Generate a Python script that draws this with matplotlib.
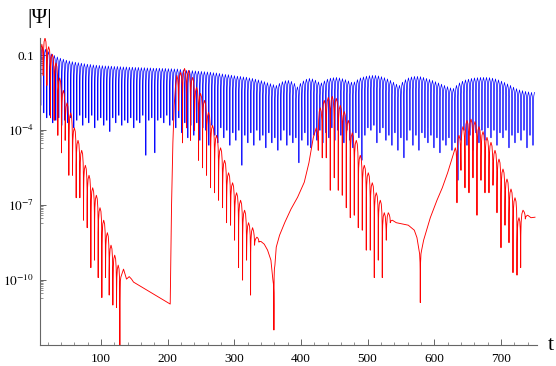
import numpy as np
import matplotlib
matplotlib.use("Agg")
import matplotlib.pyplot as plt
from matplotlib.ticker import FixedLocator, NullFormatter

# ---------------- data (t, log10|Psi|) ----------------
# blue: times of the fast dips, depth of each dip, and height of the crest before it
blue_dip_t = [
    10, 14.5, 19, 23.5, 28, 32.5, 37, 41.5, 46, 50.5,
    55, 59.5, 64, 68.5, 73, 77.5, 82, 86.5, 91, 95.5,
    100, 104.5, 109, 113.5, 118, 122.5, 127, 131.5, 136, 140.5,
    145, 149.5, 154, 158.5, 163, 167.5, 172, 176.5, 181, 185.5,
    190, 194.5, 199, 203.5, 208, 212.5, 217, 221.5, 226, 230.5,
    235, 239.5, 244, 248.5, 253, 257.5, 262, 266.5, 271, 275.5,
    280, 284.5, 289, 293.5, 298, 302.5, 307, 311.5, 316, 320.5,
    325, 329.5, 334, 338.5, 343, 347.5, 352, 356.5, 361, 365.5,
    370, 374.5, 379, 383.5, 388, 392.5, 397, 401.5, 406, 410.5,
    415, 419.5, 424, 428.5, 433, 437.5, 442, 446.5, 451, 455.5,
    460, 464.5, 469, 473.5, 478, 482.5, 487, 491.5, 496, 500.5,
    505, 509.5, 514, 518.5, 523, 527.5, 532, 536.5, 541, 545.5,
    550, 554.5, 559, 563.5, 568, 572.5, 577, 581.5, 586, 590.5,
    595, 599.5, 604, 608.5, 613, 617.5, 622, 626.5, 631, 635.5,
    640, 644.5, 649, 653.5, 658, 662.5, 667, 671.5, 676, 680.5,
    685, 689.5, 694, 698.5, 703, 707.5, 712, 716.5, 721, 725.5,
    730, 734.5, 739, 743.5, 748]
blue_dip_log = [
    -3.0, -3.3, -3.5, -3.4, -3.7, -3.6, -3.5, -3.8, -3.6, -3.7,
    -3.5, -3.9, -3.6, -3.4, -3.8, -3.5, -3.7, -3.4, -3.9, -3.6,
    -3.5, -3.8, -3.6, -4.05, -3.5, -3.7, -3.4, -3.8, -3.6, -3.7,
    -3.5, -3.9, -3.6, -3.7, -3.4, -5.0, -3.6, -3.5, -4.9, -3.6,
    -3.5, -3.7, -3.4, -3.8, -3.6, -3.9, -3.5, -4.1, -3.7, -4.3,
    -3.8, -4.2, -3.7, -4.4, -3.9, -4.0, -4.6, -3.8, -4.2, -4.5,
    -3.9, -4.3, -4.0, -4.6, -4.1, -4.4, -4.0, -5.4, -4.2, -4.5,
    -4.1, -4.6, -4.0, -4.4, -4.2, -4.7, -4.1, -4.5, -4.3, -4.8,
    -4.4, -4.0, -4.6, -4.2, -4.5, -4.3, -5.3, -4.4, -4.1, -4.6,
    -4.7, -4.2, -4.4, -4.0, -4.5, -4.1, -4.3, -3.9, -4.4, -4.0,
    -4.2, -4.5, -4.0, -4.4, -4.7, -4.1, -4.3, -5.2, -4.2, -3.9,
    -4.0, -3.8, -4.5, -4.1, -3.9, -4.4, -4.2, -4.6, -4.1, -4.8,
    -4.3, -5.1, -4.4, -4.0, -4.6, -4.2, -4.8, -4.1, -4.3, -4.5,
    -4.2, -4.7, -4.3, -4.9, -4.4, -4.6, -4.3, -4.8, -4.5, -6.0,
    -4.4, -4.0, -4.6, -4.2, -4.8, -4.1, -4.5, -4.0, -4.4, -3.9,
    -4.3, -4.0, -4.6, -4.1, -4.3, -4.0, -4.7, -4.2, -4.5, -4.1,
    -4.4, -4.0, -4.7, -4.2, -4.6]
blue_peak_log = [
    -0.60, -0.66, -0.75, -0.85, -0.94, -1.00, -1.06, -1.11, -1.15, -1.19,
    -1.22, -1.25, -1.27, -1.29, -1.31, -1.33, -1.35, -1.36, -1.38, -1.39,
    -1.40, -1.41, -1.42, -1.42, -1.43, -1.44, -1.44, -1.45, -1.46, -1.46,
    -1.47, -1.47, -1.48, -1.48, -1.49, -1.49, -1.50, -1.50, -1.51, -1.51,
    -1.51, -1.52, -1.52, -1.53, -1.53, -1.54, -1.54, -1.56, -1.58, -1.60,
    -1.60, -1.61, -1.62, -1.63, -1.64, -1.65, -1.66, -1.67, -1.69, -1.70,
    -1.72, -1.74, -1.76, -1.77, -1.79, -1.81, -1.83, -1.84, -1.86, -1.87,
    -1.90, -1.92, -1.95, -1.98, -2.01, -2.05, -2.09, -2.13, -2.17, -2.20,
    -2.12, -2.05, -2.01, -2.00, -2.04, -2.12, -2.26, -2.12, -2.02, -1.95,
    -1.92, -1.94, -1.99, -2.06, -2.10, -2.02, -1.95, -1.91, -1.89, -1.88,
    -1.90, -1.93, -1.97, -2.02, -2.07, -2.06, -1.97, -1.90, -1.86, -1.83,
    -1.81, -1.80, -1.80, -1.82, -1.85, -1.89, -1.94, -2.00, -2.07, -2.15,
    -2.20, -2.07, -1.97, -1.90, -1.86, -1.84, -1.84, -1.85, -1.88, -1.92,
    -1.96, -2.00, -2.05, -2.10, -2.15, -2.20, -2.25, -2.30, -2.32, -2.20,
    -2.10, -2.03, -1.98, -1.95, -1.92, -1.90, -1.89, -1.88, -1.88, -1.88,
    -1.89, -1.91, -1.94, -1.98, -2.03, -2.08, -2.14, -2.20, -2.27, -2.33,
    -2.38, -2.41, -2.44, -2.46, -2.48]

# red: vertices of the curve (t, log10|Psi|)
red_t = [
    8, 9.5, 11.5, 13.5, 16.25, 19, 21.75, 24.5, 27.25, 30, 32.75, 35.5, 38.25, 41,
    43.75, 46.5, 49.25, 52, 54.75, 57.5, 60.25, 63, 65.75, 68.5, 71.25, 74, 76.75,
    79.5, 82.25, 85, 87.75, 90.5, 93.25, 96, 98.75, 101.5, 104.25, 107, 109.75,
    112.5, 115.25, 118, 120.75, 123.5, 126, 128.5, 130, 134, 138.5, 142.5, 146,
    149, 204,
    206, 208, 210, 212, 214, 216.5, 219.5, 222.5, 225.5, 228.5, 231.5, 234.5,
    237.5, 240.5, 243.5, 246.5, 249.5, 252.5, 255.5, 258.5, 261.5, 264.5, 267.5,
    270.5, 273.5, 276.5, 279.5, 282.5, 285.5, 288.5, 291.5, 294.5, 297.5, 300.5,
    303.5, 306.5, 309.5, 312.5, 315.5, 318.5, 321.5, 324.5, 327.5, 330.5, 334,
    337, 340, 345, 350, 355, 358, 359.5, 361, 363, 368, 376, 385, 395, 405, 412,
    418.5,
    423, 426, 429, 432, 435, 438, 441, 444, 447, 450, 453, 456, 459, 462, 465,
    468, 471, 474, 477, 480, 483, 486, 489, 492, 495, 498, 501, 504, 507, 510,
    513, 516, 519, 522, 525, 528, 531, 534, 537, 543, 552, 561, 570, 574, 577,
    579, 581, 584, 594, 604, 612, 620, 628,
    631.5, 634, 637, 640, 643, 646, 649, 652, 655, 658, 661, 664, 667, 670, 673,
    676, 679, 682, 685, 688, 691, 694, 697, 700, 703, 706, 709, 712, 715, 718,
    721, 724, 727, 729.5, 733, 736.5, 740, 745, 751]
red_log = [
    -1.0, -4.0, -0.55, -1.8, -0.3, -2.2, -0.65, -3.5, -0.95, -3.6, -1.3, -4.2, -1.9, -4.9,
    -2.4, -4.4, -2.9, -5.8, -3.3, -5.8, -3.9, -6.7, -4.4, -6.7, -4.8, -7.6, -5.4,
    -7.9, -5.8, -9.5, -6.3, -9.2, -6.6, -9.9, -7.1, -10.7, -7.6, -9.9, -8.1,
    -10.6, -8.6, -11.0, -9.0, -11.1, -9.4, -13.5, -9.88, -9.56, -9.96, -9.86, -9.96,
    -10.08, -10.96,
    -7.0, -4.5, -3.0, -2.2, -1.8, -3.2, -1.68, -4.5, -1.52, -3.9, -1.6, -4.4,
    -1.88, -4.0, -2.28, -5.2, -2.52, -5.5, -2.8, -5.8, -3.28, -6.3, -3.8,
    -6.5, -4.2, -6.8, -4.7, -7.1, -5.2, -7.7, -5.7, -7.8, -6.1, -8.4,
    -6.5, -9.5, -6.8, -10.0, -7.2, -9.2, -7.7, -10.6, -7.9, -8.6, -8.28,
    -8.48, -8.45, -8.56, -8.8, -9.2, -10.0, -12.0, -9.4, -8.68, -8.2, -7.68, -7.16, -6.68, -6.08, -5.3,
    -4.3,
    -3.9, -4.8, -3.1, -5.1, -2.8, -5.1, -2.68, -6.4, -2.64, -5.9, -2.72, -6.4, -3.0, -6.6, -3.25,
    -7.1, -3.6, -7.5, -4.1, -7.4, -4.4, -7.9, -5.0, -8.0, -5.4, -8.8, -5.7, -8.8, -6.1, -9.9,
    -6.5, -9.2, -6.8, -9.9, -7.3, -8.4, -7.3, -7.7, -7.6, -7.7, -7.75, -7.8, -8.0, -8.3, -8.8,
    -10.9, -8.8, -8.4, -7.5, -6.8, -6.3, -5.7, -5.0,
    -4.7, -6.9, -4.2, -5.6, -3.85, -6.3, -3.6, -6.5, -3.55, -5.9, -3.65, -7.4, -3.85, -6.0, -4.05,
    -6.5, -4.28, -6.5, -4.48, -6.2, -4.8, -7.3, -5.15, -8.7, -5.55, -7.8, -5.95, -8.5, -6.35, -9.7,
    -6.7, -9.8, -7.5, -9.5, -7.2, -7.55, -7.4, -7.5, -7.48]

x_ticks = [100, 200, 300, 400, 500, 600, 700]
y_ticks = [1e-1, 1e-4, 1e-7, 1e-10]
y_labels = ["0.1", r"$10^{-4}$", r"$10^{-7}$", r"$10^{-10}$"]


# ---------------- drawing helpers ----------------
def needle_path(t, v, max_gap=4.0):
    """Draw each narrow minimum as a thin needle: the stroke stays near the
    neighbouring crest and only plunges close to the minimum (|sin|-like look)."""
    out_t, out_v = [], []
    n = len(t)
    for i in range(n):
        is_dip = (0 < i < n - 1 and v[i] < v[i - 1] and v[i] < v[i + 1]
                  and t[i] - t[i - 1] <= max_gap and t[i + 1] - t[i] <= max_gap)
        if not is_dip:
            out_t.append(t[i]); out_v.append(v[i])
            continue
        dl, dr = t[i] - t[i - 1], t[i + 1] - t[i]
        hl, hr = v[i - 1] - v[i], v[i + 1] - v[i]
        shape = [(0.5, 0.15, 0.2), (0.2, 0.5, 0.45), (0.07, 1.0, 0.7)]
        for f, c, p in shape:
            out_t.append(t[i] - f * dl); out_v.append(v[i - 1] - min(c, p * hl))
        out_t.append(t[i]); out_v.append(v[i])
        for f, c, p in shape[::-1]:
            out_t.append(t[i] + f * dr); out_v.append(v[i + 1] - min(c, p * hr))
    return out_t, out_v


# blue vertex list: crest, dip, crest, ...
bt, bl = [], []
prev = None
for tk, dk, pk in zip(blue_dip_t, blue_dip_log, blue_peak_log):
    crest_t = tk - 2.25 if prev is None else 0.5 * (prev + tk)
    bt += [crest_t, tk]
    bl += [pk, dk]
    prev = tk
bt.append(blue_dip_t[-1] + 2.25)
bl.append(blue_peak_log[-1])

bt, bl = needle_path(bt, bl)
rt, rl = needle_path(red_t, red_log)

# ---------------- figure ----------------
plt.rcParams["mathtext.fontset"] = "stix"
plt.rcParams["font.family"] = ["Liberation Serif", "DejaVu Serif"]

W, H = 556, 366
fig = plt.figure(figsize=(W / 100, H / 100), dpi=100)
ax = fig.add_axes([39.5 / W, 21 / H, (537 - 39.5) / W, (345 - 38) / H])

ax.plot(bt, 10.0 ** np.array(bl), color=(0, 0, 1), lw=0.5)
ax.plot(rt, 10.0 ** np.array(rl), color=(1, 0, 0), lw=0.65)

ax.set_yscale("log")
ax.set_xlim(8, 754)
ax.set_ylim(10 ** -12.6, 10 ** -0.3)

for s in ("top", "right"):
    ax.spines[s].set_visible(False)
for s in ("left", "bottom"):
    ax.spines[s].set_color("#666666")
    ax.spines[s].set_linewidth(0.8)

ax.xaxis.set_major_locator(FixedLocator(x_ticks))
ax.xaxis.set_minor_locator(FixedLocator([v for v in range(20, 760, 20) if v % 100]))
ax.set_xticklabels([str(v) for v in x_ticks])

ax.yaxis.set_major_locator(FixedLocator(y_ticks))
ax.set_yticklabels(y_labels)
ym = []
for m in (-1, -4, -7, -10):
    ym += [k * 10.0 ** (m - 1) for k in range(2, 10)]
ax.yaxis.set_minor_locator(FixedLocator(ym))
ax.yaxis.set_minor_formatter(NullFormatter())

ax.tick_params(which="both", direction="in", color="#666666", labelsize=9.5,
               labelcolor="black")
ax.tick_params(which="major", length=4, width=0.7)
ax.tick_params(which="minor", length=2, width=0.5)
ax.tick_params(axis="x", pad=6)
ax.tick_params(axis="y", pad=4)

fig.text(40 / W, 1 - 19 / H, "|Ψ|", ha="center", va="center", fontsize=15.5)
fig.text(551 / W, 1 - 345 / H, "t", ha="center", va="center", fontsize=16)

fig.savefig("out.png", dpi=100)
